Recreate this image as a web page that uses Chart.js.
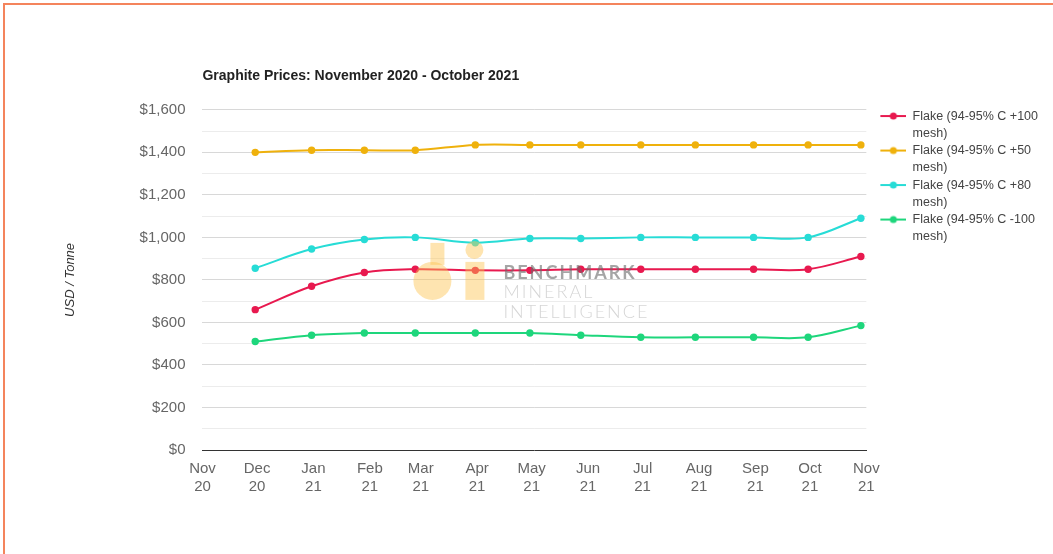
<!DOCTYPE html>
<html>
<head>
<meta charset="utf-8">
<script src="https://cdn.jsdelivr.net/npm/chart.js@4.4.1/dist/chart.umd.min.js"></script>
<style>
  html, body { margin: 0; padding: 0; background: #fff; overflow: hidden; }
  #frame { position: absolute; left: 3px; top: 3px; width: 1100px; height: 600px; border: 2px solid #f4845c; }
  #myChart { position: absolute; left: 0; top: 0; }
</style>
</head>
<body>
<div id="frame"></div>
<canvas id="myChart" width="1053" height="554"></canvas>
<script>
// tick labels on the time axis (first of each month)
var tickDates = ['2020-11-01', '2020-12-01', '2021-01-01', '2021-02-01', '2021-03-01', '2021-04-01', '2021-05-01',
                 '2021-06-01', '2021-07-01', '2021-08-01', '2021-09-01', '2021-10-01', '2021-11-01'];
var tickLabels = ['Nov 20', 'Dec 20', 'Jan 21', 'Feb 21', 'Mar 21', 'Apr 21', 'May 21',
                  'Jun 21', 'Jul 21', 'Aug 21', 'Sep 21', 'Oct 21', 'Nov 21'];

// price assessment dates (month end)
var priceDates = ['2020-11-30', '2020-12-31', '2021-01-29', '2021-02-26', '2021-03-31', '2021-04-30',
                  '2021-05-28', '2021-06-30', '2021-07-30', '2021-08-31', '2021-09-30', '2021-10-29'];

var seriesNames = ['Flake (94-95% C +100 mesh)', 'Flake (94-95% C +50 mesh)', 'Flake (94-95% C +80 mesh)', 'Flake (94-95% C -100 mesh)'];
var flakePlus100 = [660, 770, 835, 850, 845, 845, 850, 850, 850, 850, 850, 910];
var flakePlus50 = [1400, 1410, 1410, 1410, 1435, 1435, 1435, 1435, 1435, 1435, 1435, 1435];
var flakePlus80 = [855, 945, 990, 1000, 975, 995, 995, 1000, 1000, 1000, 1000, 1090];
var flakeMinus100 = [510, 540, 550, 550, 550, 550, 540, 530, 530, 530, 530, 585];

var lineColors = ['#e8194f', '#efb10c', '#27dcd6', '#1ed67c'];

var startDay = Date.parse(tickDates[0]);
function dayOf(s) {
    return (Date.parse(s) - startDay) / 86400000;
}

function toPoints(values) {
    return values.map(function (v, i) { return { x: dayOf(priceDates[i]), y: v }; });
}

// legend marker: line with a dot, with a gap on the left
function legendMarker(color) {
    var c = document.createElement('canvas');
    c.width = 40; c.height = 10;
    var g = c.getContext('2d');
    g.strokeStyle = color; g.lineWidth = 2;
    g.beginPath(); g.moveTo(14, 5); g.lineTo(40, 5); g.stroke();
    g.fillStyle = color;
    g.beginPath(); g.arc(27, 5, 3.5, 0, Math.PI * 2); g.fill();
    return c;
}

var allSeries = [flakePlus100, flakePlus50, flakePlus80, flakeMinus100];
var datasets = allSeries.map(function (vals, i) {
    return {
        label: seriesNames[i],
        data: toPoints(vals),
        borderColor: lineColors[i],
        backgroundColor: lineColors[i],
        borderWidth: 2,
        pointRadius: 3.7,
        pointBorderWidth: 0,
        pointHoverRadius: 5,
        tension: 0.35
    };
});

var watermark = {
    id: 'watermark',
    afterDatasetsDraw: function (chart) {
        var a = chart.chartArea, ctx = chart.ctx;
        var cx = (a.left + a.right) / 2, cy = (a.top + a.bottom) / 2;
        ctx.save();
        ctx.fillStyle = 'rgba(252, 196, 80, 0.45)';
        // "b"
        ctx.fillRect(cx - 104, cy - 37, 14, 22);
        ctx.beginPath(); ctx.arc(cx - 102, cy + 1, 19, 0, Math.PI * 2); ctx.fill();
        // "i"
        ctx.beginPath(); ctx.arc(cx - 60, cy - 30, 9, 0, Math.PI * 2); ctx.fill();
        ctx.fillRect(cx - 69, cy - 18, 19, 38);
        ctx.textBaseline = 'alphabetic';
        ctx.textAlign = 'left';
        ctx.fillStyle = 'rgba(105, 105, 105, 0.6)';
        ctx.font = 'bold 18px Lato, "Liberation Sans", sans-serif';
        ctx.letterSpacing = '2px';
        ctx.fillText('BENCHMARK', cx - 31, cy - 1);
        ctx.fillStyle = 'rgba(150, 150, 150, 0.4)';
        ctx.font = '300 18px Lato, "Liberation Sans", sans-serif';
        ctx.letterSpacing = '2px';
        ctx.fillText('MINERAL', cx - 31, cy + 18);
        ctx.fillText('INTELLIGENCE', cx - 31, cy + 38);
        ctx.restore();
    }
};

Chart.defaults.font.family = '"Liberation Sans", Arial, sans-serif';

new Chart('myChart', {
    type: 'line',
    data: { datasets: datasets },
    plugins: [watermark],
    options: {
        responsive: false,
        animation: false,
        layout: { padding: { left: 63, top: 68, right: 5, bottom: 48 } },
        plugins: {
            title: {
                display: true,
                text: 'Graphite Prices: November 2020 - October 2021',
                align: 'start',
                fullSize: false,
                color: '#222',
                font: { size: 14, weight: 'bold' },
                padding: { top: 0, bottom: 25 }
            },
            legend: {
                position: 'right',
                align: 'start',
                fullSize: false,
                labels: {
                    usePointStyle: true,
                    pointStyleWidth: 40,
                    padding: 0,
                    color: '#444',
                    font: { size: 12.5, lineHeight: 1.38 },
                    generateLabels: function (chart) {
                        return chart.data.datasets.map(function (ds, i) {
                            var cut = ds.label.lastIndexOf(' ');
                            return {
                                text: [ds.label.slice(0, cut), ds.label.slice(cut + 1)],
                                fillStyle: ds.borderColor,
                                strokeStyle: ds.borderColor,
                                fontColor: '#444',
                                lineWidth: 0,
                                pointStyle: legendMarker(ds.borderColor),
                                hidden: !chart.isDatasetVisible(i),
                                datasetIndex: i
                            };
                        });
                    }
                }
            },
            tooltip: { enabled: true }
        },
        scales: {
            x: {
                type: 'linear',
                min: 0,
                max: dayOf(tickDates[tickDates.length - 1]),
                afterBuildTicks: function (axis) {
                    axis.ticks = tickDates.map(function (d) { return { value: dayOf(d) }; });
                },
                grid: { display: false, drawTicks: false },
                border: { display: true, color: '#333', width: 1 },
                ticks: {
                    autoSkip: false,
                    maxRotation: 0,
                    padding: 10,
                    color: '#666',
                    font: { size: 15 },
                    callback: function (value, index) {
                        return tickLabels[index].split(' ');
                    }
                }
            },
            y: {
                min: 0,
                max: 1600,
                grid: {
                    drawTicks: false,
                    color: function (c) {
                        if (c.tick.value === 0) return 'rgba(0,0,0,0)';
                        return c.tick.value % 200 === 0 ? '#d8d8d8' : '#ececec';
                    }
                },
                border: { display: false },
                ticks: {
                    stepSize: 100,
                    autoSkip: false,
                    padding: 17,
                    color: '#666',
                    font: { size: 15 },
                    callback: function (v) {
                        return v % 200 === 0 ? '$' + v.toLocaleString('en-US') : '';
                    }
                },
                title: {
                    display: true,
                    text: 'USD / Tonne',
                    color: '#333',
                    font: { size: 13, style: 'italic' },
                    padding: { top: 0, bottom: 44 }
                }
            }
        }
    }
});
</script>
</body>
</html>
